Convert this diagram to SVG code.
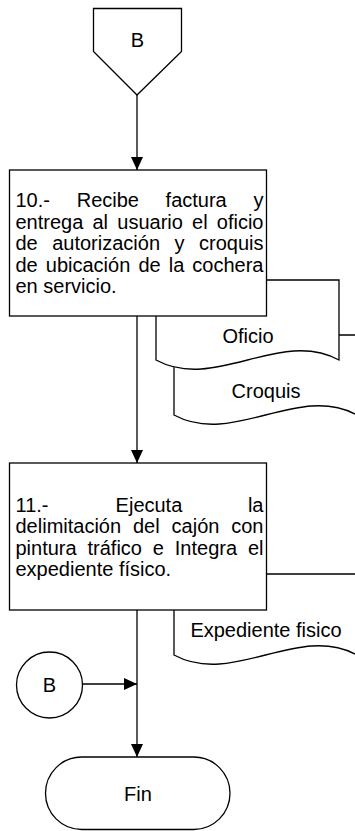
<svg xmlns="http://www.w3.org/2000/svg" width="355" height="831" viewBox="0 0 355 831">
<style>
  .s{fill:#fff;stroke:#000;stroke-width:1.3}
  .c{fill:none;stroke:#000;stroke-width:1.3}
  text{font-family:"Liberation Sans",Arial,sans-serif;font-size:20px;fill:#000}
  .m{text-anchor:middle}
  .e{text-anchor:end}
</style>
<defs>
  <marker id="ah" viewBox="0 0 13 12" refX="13" refY="6" markerWidth="13" markerHeight="12" markerUnits="userSpaceOnUse" orient="auto">
    <path d="M0,0 L13,6 L0,12 Z" fill="#000"/>
  </marker>
</defs>
<rect width="355" height="831" fill="#fff"/>

<g id="connectors">
  <line class="c" x1="137" y1="95" x2="137" y2="170" marker-end="url(#ah)"/>
  <line class="c" x1="137" y1="316" x2="137" y2="463" marker-end="url(#ah)"/>
  <line class="c" x1="137" y1="610" x2="137" y2="757" marker-end="url(#ah)"/>
  <line class="c" x1="82.5" y1="684" x2="137" y2="684" marker-end="url(#ah)"/>
</g>

<g id="offpage-B">
  <path class="s" d="M93.5,8.5 H181.5 V51.5 L137,95 L93.5,51.5 Z"/>
  <text class="m" x="137.5" y="47">B</text>
</g>

<g id="doc-croquis">
  <path class="s" d="M174,335 H357 V415 C298,383 233,447 174,415 Z"/>
  <text class="m" x="266" y="398">Croquis</text>
</g>

<g id="doc-oficio">
  <path class="s" d="M156,280 H339 V360 C280,328 215,392 156,360 Z"/>
  <text class="m" x="248" y="343">Oficio</text>
</g>

<g id="step-10">
  <rect class="s" x="9.5" y="170" width="257" height="146"/>
  <text y="207"><tspan x="15.5">10.-</tspan><tspan x="76.7">Recibe</tspan><tspan x="165.6">factura</tspan><tspan x="263.5" class="e">y</tspan></text>
  <text y="228.5"><tspan x="15.5">entrega</tspan><tspan x="92.5">al</tspan><tspan x="117.3">usuario</tspan><tspan x="192.1">el</tspan><tspan x="263.5" class="e">oficio</tspan></text>
  <text y="250"><tspan x="15.5">de</tspan><tspan x="52.2">autorización</tspan><tspan x="174.5">y</tspan><tspan x="263.5" class="e">croquis</tspan></text>
  <text y="271.5"><tspan x="15.5">de</tspan><tspan x="45.8">ubicación</tspan><tspan x="138.4">de</tspan><tspan x="168.7">la</tspan><tspan x="263.5" class="e">cochera</tspan></text>
  <text x="15.5" y="293">en servicio.</text>
</g>

<g id="doc-expediente">
  <path class="s" d="M174,574 H357 V655 C298,623 233,687 174,655 Z"/>
  <text class="m" x="266" y="637">Expediente fisico</text>
</g>

<g id="step-11">
  <rect class="s" x="9.5" y="463" width="257" height="147"/>
  <text y="511.5"><tspan x="15.5">11.-</tspan><tspan x="115.6">Ejecuta</tspan><tspan x="263.5" class="e">la</tspan></text>
  <text y="533"><tspan x="15.5">delimitación</tspan><tspan x="133">del</tspan><tspan x="171.6">cajón</tspan><tspan x="263.5" class="e">con</tspan></text>
  <text y="554.5"><tspan x="15.5">pintura</tspan><tspan x="87.5">tráfico</tspan><tspan x="152.8">e</tspan><tspan x="174.8">Integra</tspan><tspan x="263.5" class="e">el</tspan></text>
  <text x="15.5" y="576">expediente físico.</text>
</g>

<g id="connector-B">
  <circle class="s" cx="49.5" cy="685" r="33"/>
  <text class="m" x="49.5" y="692">B</text>
</g>

<g id="fin">
  <rect class="s" x="45.5" y="757" width="184.5" height="72.5" rx="36.25" ry="36.25"/>
  <text class="m" x="138" y="801">Fin</text>
</g>
</svg>
